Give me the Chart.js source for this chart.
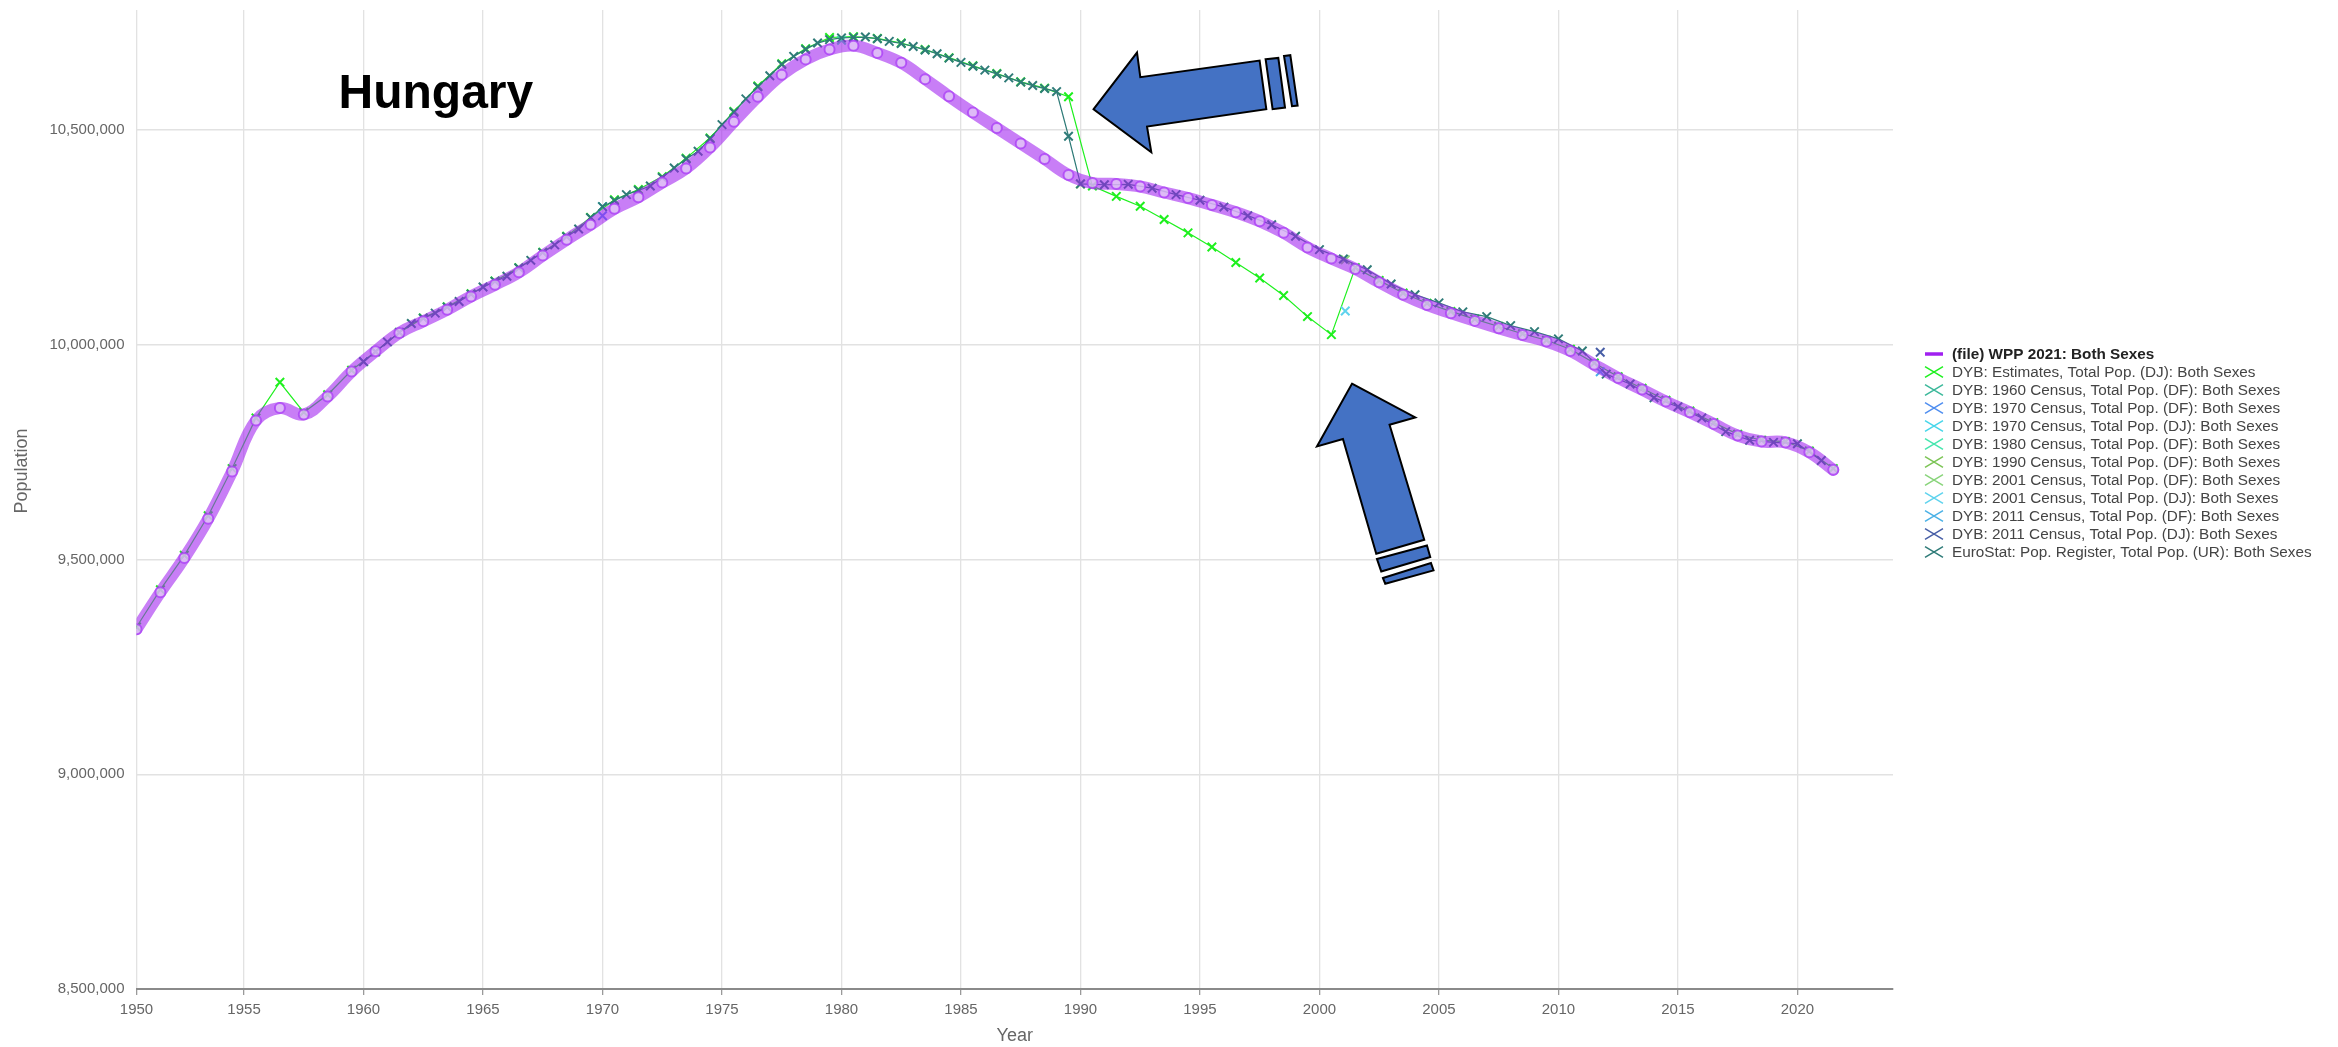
<!DOCTYPE html>
<html>
<head>
<meta charset="utf-8">
<title>Hungary – total population</title>
<script src="https://cdn.jsdelivr.net/npm/chart.js@4.4.1/dist/chart.umd.min.js"></script>
<style>
  html, body { margin: 0; padding: 0; background: #ffffff; }
  canvas { display: block; }
</style>
</head>
<body>
<canvas id="popChart" width="2338" height="1047"></canvas>
<script>
// ---------------------------------------------------------------------------
// Data
// ---------------------------------------------------------------------------
const countryName = 'Hungary';
const xAxisTitle = 'Year';
const yAxisTitle = 'Population';

// Axis ticks
const popTicks = [8500000, 9000000, 9500000, 10000000, 10500000];
const yearTicks = [1950.5, 1955, 1960, 1965, 1970, 1975, 1980, 1985, 1990, 1995, 2000, 2005, 2010, 2015, 2020];
const yearTickLabels = ['1950', '1955', '1960', '1965', '1970', '1975', '1980', '1985', '1990', '1995', '2000', '2005', '2010', '2015', '2020'];

// Mid-year series are plotted at 1 July of each year
const MID_YEAR = 0.5;

// WPP 2021, both sexes (mid-year)
const wppYears = [1950, 1951, 1952, 1953, 1954, 1955, 1956, 1957, 1958, 1959,
  1960, 1961, 1962, 1963, 1964, 1965, 1966, 1967, 1968, 1969,
  1970, 1971, 1972, 1973, 1974, 1975, 1976, 1977, 1978, 1979,
  1980, 1981, 1982, 1983, 1984, 1985, 1986, 1987, 1988, 1989,
  1990, 1991, 1992, 1993, 1994, 1995, 1996, 1997, 1998, 1999,
  2000, 2001, 2002, 2003, 2004, 2005, 2006, 2007, 2008, 2009,
  2010, 2011, 2012, 2013, 2014, 2015, 2016, 2017, 2018, 2019,
  2020, 2021];
const wppPop = [9338000, 9424000, 9504000, 9595000, 9705000, 9824000, 9853000, 9838000, 9880000, 9938000,
  9985000, 10028000, 10055000, 10082000, 10113000, 10140000, 10169000, 10208000, 10245000, 10280000,
  10317000, 10344000, 10378000, 10411000, 10460000, 10520000, 10578000, 10629000, 10665000, 10688000,
  10697000, 10680000, 10657000, 10619000, 10579000, 10541000, 10505000, 10469000, 10433000, 10396000,
  10377000, 10375000, 10369000, 10355000, 10342000, 10326000, 10309000, 10288000, 10261000, 10227000,
  10201000, 10177000, 10146000, 10117000, 10093000, 10074000, 10056000, 10039000, 10023000, 10008000,
  9986000, 9954000, 9923000, 9896000, 9868000, 9843000, 9816000, 9789000, 9775000, 9773000,
  9750000, 9709000];

// DYB: Estimates, total population (de jure), mid-year
const dybEstYears = wppYears;
const dybEstPop = [9343000, 9430000, 9510000, 9602000, 9712000, 9830000, 9913000, 9843000, 9884000, 9941000,
  9984000, 10029000, 10063000, 10089000, 10119000, 10149000, 10180000, 10216000, 10253000, 10297000,
  10338000, 10362000, 10392000, 10435000, 10482000, 10544000, 10603000, 10655000, 10690000, 10716000,
  10718000, 10714000, 10703000, 10688000, 10669000, 10650000, 10632000, 10613000, 10598000, 10578000,
  10370000, 10346000, 10323000, 10292000, 10261000, 10228000, 10192000, 10156000, 10115000, 10066000,
  10024000, 10180000, 10150000, 10121000, 10097000, 10078000, 10060000, 10043000, 10026000, 10011000,
  9990000, 9958000, 9926000, 9899000, 9871000, 9846000, 9819000, 9792000, 9778000, 9775000,
  9753000, 9712000];

// Census counts (reference date as decimal year)
const census1960DF = { dates: [1960.0],  pop: [9961044] };
const census1970DF = { dates: [1970.0],  pop: [10301000] };
const census1970DJ = { dates: [1970.0],  pop: [10322099] };
const census1980DF = { dates: [1980.0],  pop: [10709463] };
const census1990DF = { dates: [1990.0],  pop: [10374823] };
const census2001DF = { dates: [2001.08], pop: [10198315] };
const census2001DJ = { dates: [2001.08], pop: [10079000] };
const census2011DF = { dates: [2011.75], pop: [9937628] };
const census2011DJ = { dates: [2011.75], pop: [9983000] };

// EuroStat population register (1 January and annual average)
const euroDates = [1960, 1960.5, 1961, 1961.5, 1962, 1962.5, 1963, 1963.5, 1964, 1964.5,
  1965, 1965.5, 1966, 1966.5, 1967, 1967.5, 1968, 1968.5, 1969, 1969.5,
  1970, 1970.5, 1971, 1971.5, 1972, 1972.5, 1973, 1973.5, 1974, 1974.5,
  1975, 1975.5, 1976, 1976.5, 1977, 1977.5, 1978, 1978.5, 1979, 1979.5,
  1980, 1980.5, 1981, 1981.5, 1982, 1982.5, 1983, 1983.5, 1984, 1984.5,
  1985, 1985.5, 1986, 1986.5, 1987, 1987.5, 1988, 1988.5, 1989, 1989.5,
  1990, 1991, 1992, 1993, 1994, 1995, 1996, 1997, 1998, 1999,
  2000, 2001, 2002, 2003, 2004, 2005, 2006, 2007, 2008, 2009,
  2010, 2011, 2012, 2013, 2014, 2015, 2016, 2017, 2018, 2019,
  2020, 2021];
const euroPop = [9961000, 9984000, 10007000, 10029000, 10050000, 10062000, 10074000, 10088000, 10101000, 10118000,
  10135000, 10148000, 10160000, 10179000, 10197000, 10215000, 10233000, 10252000, 10270000, 10296000,
  10322000, 10336000, 10350000, 10360000, 10370000, 10390000, 10412000, 10433000, 10451000, 10480000,
  10513000, 10542000, 10573000, 10601000, 10627000, 10653000, 10672000, 10688000, 10703000, 10711000,
  10715000, 10716000, 10717000, 10713000, 10707000, 10702000, 10695000, 10687000, 10678000, 10668000,
  10658000, 10649000, 10640000, 10631000, 10622000, 10612000, 10604000, 10597000, 10590000, 10486000,
  10375000, 10373000, 10374000, 10365000, 10350000, 10337000, 10321000, 10301000, 10280000, 10253000,
  10222000, 10200000, 10175000, 10142000, 10117000, 10098000, 10077000, 10066000, 10045000, 10031000,
  10014000, 9986000, 9932000, 9909000, 9877000, 9856000, 9830000, 9798000, 9778000, 9773000,
  9770000, 9731000];

// ---------------------------------------------------------------------------
// Styles
// ---------------------------------------------------------------------------
const FONT = '"Liberation Sans", Arial, Helvetica, sans-serif';
const WPP_COLOR = '#a020f0';
const seriesColors = {
  est:     '#1ef01e',
  c1960DF: '#3bb89a',
  c1970DF: '#4f8ef0',
  c1970DJ: '#47d6ea',
  c1980DF: '#45e6ae',
  c1990DF: '#7cc455',
  c2001DF: '#88d47a',
  c2001DJ: '#5fd3ee',
  c2011DF: '#4ab1e6',
  c2011DJ: '#475ea6',
  euro:    '#2f7b78'
};

function toPoints(xs, ys) {
  return xs.map((x, i) => ({ x: x, y: ys[i] }));
}

function crossSeries(label, color, xs, ys, order) {
  return {
    label: label,
    data: toPoints(xs, ys),
    borderColor: color,
    backgroundColor: color,
    borderWidth: 1.2,
    pointStyle: 'crossRot',
    pointRadius: 6,
    pointHoverRadius: 6,
    pointBorderWidth: 2,
    pointBorderColor: color,
    tension: 0,
    fill: false,
    order: order
  };
}

const datasets = [
  {
    label: '(file) WPP 2021: Both Sexes',
    data: toPoints(wppYears.map(y => y + MID_YEAR), wppPop),
    borderColor: 'rgba(160, 32, 240, 0.58)',
    backgroundColor: 'rgba(160, 32, 240, 0.58)',
    borderWidth: 12,
    borderCapStyle: 'round',
    borderJoinStyle: 'round',
    tension: 0.4,
    pointStyle: 'circle',
    pointRadius: 5,
    pointHoverRadius: 5,
    pointBorderWidth: 2,
    pointBorderColor: 'rgba(170, 60, 245, 0.75)',
    pointBackgroundColor: 'rgba(232, 212, 248, 0.7)',
    fill: false,
    order: 0
  },
  crossSeries('DYB: Estimates, Total Pop. (DJ): Both Sexes', seriesColors.est,
    dybEstYears.map(y => y + MID_YEAR), dybEstPop, 11),
  crossSeries('DYB: 1960 Census, Total Pop. (DF): Both Sexes', seriesColors.c1960DF, census1960DF.dates, census1960DF.pop, 10),
  crossSeries('DYB: 1970 Census, Total Pop. (DF): Both Sexes', seriesColors.c1970DF, census1970DF.dates, census1970DF.pop, 2),
  crossSeries('DYB: 1970 Census, Total Pop. (DJ): Both Sexes', seriesColors.c1970DJ, census1970DJ.dates, census1970DJ.pop, 9),
  crossSeries('DYB: 1980 Census, Total Pop. (DF): Both Sexes', seriesColors.c1980DF, census1980DF.dates, census1980DF.pop, 8),
  crossSeries('DYB: 1990 Census, Total Pop. (DF): Both Sexes', seriesColors.c1990DF, census1990DF.dates, census1990DF.pop, 7),
  crossSeries('DYB: 2001 Census, Total Pop. (DF): Both Sexes', seriesColors.c2001DF, census2001DF.dates, census2001DF.pop, 6),
  crossSeries('DYB: 2001 Census, Total Pop. (DJ): Both Sexes', seriesColors.c2001DJ, census2001DJ.dates, census2001DJ.pop, 3),
  crossSeries('DYB: 2011 Census, Total Pop. (DF): Both Sexes', seriesColors.c2011DF, census2011DF.dates, census2011DF.pop, 5),
  crossSeries('DYB: 2011 Census, Total Pop. (DJ): Both Sexes', seriesColors.c2011DJ, census2011DJ.dates, census2011DJ.pop, 4),
  crossSeries('EuroStat: Pop. Register, Total Pop. (UR): Both Sexes', seriesColors.euro, euroDates, euroPop, 1)
];

// ---------------------------------------------------------------------------
// Plugins: country heading, y-axis caption, side legend, callout arrows
// ---------------------------------------------------------------------------
const headingPlugin = {
  id: 'countryHeading',
  afterDraw(chart) {
    const { ctx, chartArea } = chart;
    ctx.save();
    ctx.font = 'bold 48px ' + FONT;
    ctx.fillStyle = '#000000';
    ctx.textAlign = 'left';
    ctx.textBaseline = 'alphabetic';
    ctx.fillText(countryName, chartArea.left + 202, chartArea.top + 98);
    ctx.restore();
  }
};

const yCaptionPlugin = {
  id: 'yCaption',
  afterDraw(chart) {
    const { ctx, chartArea } = chart;
    ctx.save();
    ctx.translate(22, chartArea.top + 461);
    ctx.rotate(-Math.PI / 2);
    ctx.font = '18px ' + FONT;
    ctx.fillStyle = '#666666';
    ctx.textAlign = 'center';
    ctx.textBaseline = 'middle';
    ctx.fillText(yAxisTitle, 0, 0);
    ctx.restore();
  }
};

const sideLegendPlugin = {
  id: 'sideLegend',
  afterDraw(chart) {
    const { ctx, chartArea } = chart;
    const x0 = chartArea.right + 32;
    const rowH = 18;
    const firstY = chartArea.top + 344;
    ctx.save();
    ctx.textAlign = 'left';
    ctx.textBaseline = 'middle';
    chart.data.datasets.forEach((ds, i) => {
      const cy = firstY + i * rowH;
      if (i === 0) {
        ctx.strokeStyle = WPP_COLOR;
        ctx.lineWidth = 3.5;
        ctx.lineCap = 'butt';
        ctx.beginPath();
        ctx.moveTo(x0, cy);
        ctx.lineTo(x0 + 18, cy);
        ctx.stroke();
        ctx.font = 'bold 15.3px ' + FONT;
        ctx.fillStyle = '#222222';
      } else {
        ctx.strokeStyle = ds.borderColor;
        ctx.lineWidth = 1.5;
        ctx.beginPath();
        ctx.moveTo(x0, cy - 5.3);
        ctx.lineTo(x0 + 18, cy + 5.3);
        ctx.moveTo(x0, cy + 5.3);
        ctx.lineTo(x0 + 18, cy - 5.3);
        ctx.stroke();
        ctx.font = '15.3px ' + FONT;
        ctx.fillStyle = '#444444';
      }
      ctx.fillText(ds.label, x0 + 27, cy + 1);
    });
    ctx.restore();
  }
};

// Block arrows pointing at the break in the official series.
// Each arrow is anchored at its tip in data space; the outline is in pixels.
const calloutArrows = [
  {
    tip: { year: 1990.55, pop: 10549000 },
    body: [[0, 0], [43.4, -56.6], [46.7, -32], [166, -48.6], [172.7, 0], [53.4, 17.4], [57.7, 43]],
    stripes: [
      [[172, -50], [184.7, -51.3], [191.4, -1.6], [179, 0]],
      [[190.4, -53.3], [196.7, -54], [204, -3.6], [198.4, -3]]
    ]
  },
  {
    tip: { year: 2001.36, pop: 9909600 },
    body: [[0, 0], [63.3, 33.7], [37.6, 41], [72.3, 156], [24.3, 170], [-9, 55.3], [-35, 62.7]],
    stripes: [
      [[25, 175.3], [75, 161.7], [78.3, 173.3], [29.3, 187.7]],
      [[31, 194.3], [79, 179.3], [81.6, 186.7], [33.3, 200]]
    ]
  }
];

const arrowPlugin = {
  id: 'calloutArrows',
  afterDraw(chart) {
    const { ctx, scales } = chart;
    ctx.save();
    ctx.fillStyle = '#4472c4';
    ctx.strokeStyle = '#000000';
    ctx.lineWidth = 2;
    ctx.lineJoin = 'miter';
    calloutArrows.forEach(a => {
      const tx = scales.x.getPixelForValue(a.tip.year);
      const ty = scales.y.getPixelForValue(a.tip.pop);
      [a.body].concat(a.stripes).forEach(poly => {
        ctx.beginPath();
        poly.forEach((p, i) => {
          if (i === 0) ctx.moveTo(tx + p[0], ty + p[1]);
          else ctx.lineTo(tx + p[0], ty + p[1]);
        });
        ctx.closePath();
        ctx.fill();
        ctx.stroke();
      });
    });
    ctx.restore();
  }
};

// ---------------------------------------------------------------------------
// Chart
// ---------------------------------------------------------------------------
Chart.defaults.font.family = FONT;
Chart.defaults.color = '#666666';

new Chart(document.getElementById('popChart'), {
  type: 'line',
  data: { datasets: datasets },
  options: {
    responsive: false,
    animation: false,
    events: [],
    layout: { padding: { top: 10, right: 445, left: 0, bottom: 0 } },
    plugins: {
      legend: { display: false },
      tooltip: { enabled: false },
      title: { display: false }
    },
    scales: {
      x: {
        type: 'linear',
        min: 1950.5,
        max: 2024,
        afterBuildTicks(scale) {
          scale.ticks = yearTicks.map(v => ({ value: v }));
        },
        afterFit(scale) { scale.height = 58; },
        ticks: {
          autoSkip: false,
          maxRotation: 0,
          padding: 6,
          color: '#666666',
          font: { size: 15 },
          callback: (value, index) => yearTickLabels[index]
        },
        grid: {
          color: '#e2e2e2',
          lineWidth: 1.3,
          drawTicks: true,
          tickLength: 6,
          tickColor: '#9a9a9a'
        },
        border: { display: true, color: '#8a8a8a', width: 2 },
        title: {
          display: true,
          text: xAxisTitle,
          color: '#666666',
          font: { size: 18 },
          padding: { top: 0, bottom: 0 }
        }
      },
      y: {
        type: 'linear',
        min: 8500000,
        max: 10780000,
        afterBuildTicks(scale) {
          scale.ticks = popTicks.map(v => ({ value: v }));
        },
        afterFit(scale) {
          scale.width = 136.5;
          // the top label is far from the edge, so no extra room is needed
          scale.paddingTop = 0;
          scale.paddingBottom = 0;
        },
        ticks: {
          padding: 12,
          color: '#666666',
          font: { size: 15 },
          callback: value => Number(value).toLocaleString('en-US')
        },
        grid: {
          color: '#e2e2e2',
          lineWidth: 1.6,
          drawTicks: false
        },
        border: { display: false },
        title: { display: false }
      }
    }
  },
  plugins: [headingPlugin, yCaptionPlugin, sideLegendPlugin, arrowPlugin]
});
</script>
</body>
</html>
